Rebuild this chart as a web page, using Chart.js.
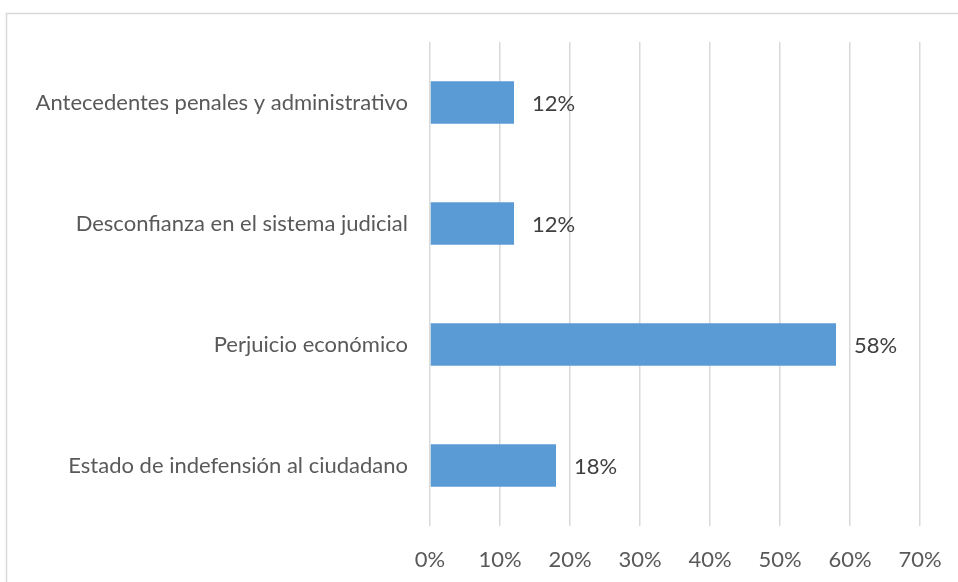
<!DOCTYPE html>
<html>
<head>
<meta charset="utf-8">
<script src="https://cdn.jsdelivr.net/npm/chart.js@4"></script>
<style>
    html, body { margin: 0; padding: 0; background: #fff; }
    #wrap { position: relative; width: 958px; height: 582px; }
</style>
</head>
<body>
<div id="wrap"><canvas id="bar-chart" width="958" height="582"></canvas></div>
<script>
const categories = [
    'Antecedentes penales y administrativo',
    'Desconfianza en el sistema judicial',
    'Perjuicio económico',
    'Estado de indefensión al ciudadano'
];
const percentValues = [12, 12, 58, 18];
const tickValues = [0, 10, 20, 30, 40, 50, 60, 70];

const fontFamily = 'Lato, "Open Sans", sans-serif';

// border box that frames the chart (cut off at right and bottom)
const frameBorder = {
    id: 'frameBorder',
    beforeDraw(chart) {
        const ctx = chart.ctx;
        ctx.save();
        ctx.strokeStyle = '#D9D9D9';
        ctx.lineWidth = 1.5;
        ctx.beginPath();
        ctx.moveTo(6.5, chart.height);
        ctx.lineTo(6.5, 13.5);
        ctx.lineTo(chart.width, 13.5);
        ctx.stroke();
        ctx.restore();
    }
};

const barLabels = {
    id: 'barLabels',
    afterDatasetsDraw(chart) {
        const ctx = chart.ctx;
        const meta = chart.getDatasetMeta(0);
        ctx.save();
        ctx.font = '22px ' + fontFamily;
        ctx.fillStyle = '#404040';
        ctx.textAlign = 'left';
        ctx.textBaseline = 'middle';
        meta.data.forEach((bar, i) => {
            ctx.fillText(percentValues[i] + '%', bar.x + 18, bar.y + 1);
        });
        ctx.restore();
    }
};

const ctx = document.getElementById('bar-chart').getContext('2d');

new Chart(ctx, {
    type: 'bar',
    data: {
        labels: categories,
        datasets: [{
            data: percentValues,
            backgroundColor: '#5B9BD5',
            categoryPercentage: 1,
            barPercentage: 0.35
        }]
    },
    options: {
        indexAxis: 'y',
        responsive: false,
        animation: false,
        layout: {
            padding: { top: 42, right: 38, left: 0, bottom: 0 }
        },
        scales: {
            x: {
                min: 0,
                max: 70,
                afterBuildTicks(axis) {
                    axis.ticks = tickValues.map(v => ({ value: v }));
                },
                afterFit(axis) {
                    axis.height = 56;
                    axis.paddingRight = 0;
                },
                grid: {
                    color: '#D9D9D9',
                    lineWidth: 1.5,
                    drawTicks: false
                },
                border: { display: false },
                ticks: {
                    padding: 21,
                    color: '#595959',
                    font: { family: fontFamily, size: 22 },
                    callback: value => value + '%'
                }
            },
            y: {
                afterFit(axis) {
                    axis.width = 430;
                },
                grid: { display: false, drawTicks: false },
                border: { display: false },
                ticks: {
                    padding: 22,
                    color: '#595959',
                    font: { family: fontFamily, size: 22 }
                }
            }
        },
        plugins: {
            legend: { display: false },
            tooltip: { enabled: false }
        }
    },
    plugins: [frameBorder, barLabels]
});
</script>
</body>
</html>
